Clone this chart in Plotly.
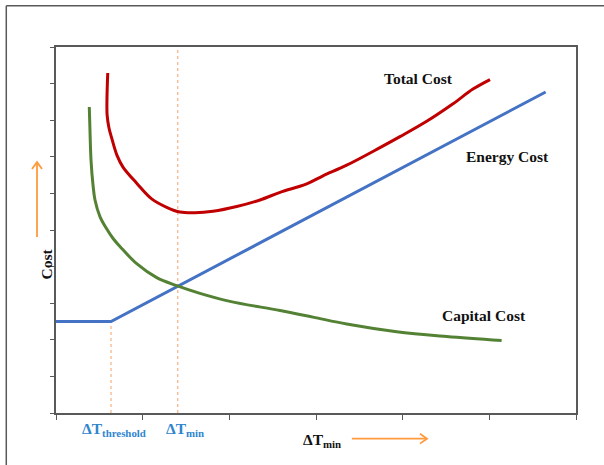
import plotly.graph_objects as go

# ---- data ----
total_x = [0.597, 0.588, 0.590, 0.612, 0.643, 0.704, 0.773, 0.931, 1.104, 1.277, 1.431, 1.604,
           1.811, 2.085, 2.354, 2.585, 2.893, 3.081, 3.354, 3.738, 3.969, 4.277, 4.581, 4.811, 5.008]
total_y = [9.29, 8.55, 8.14, 7.78, 7.51, 7.04, 6.72, 6.28, 5.85, 5.62, 5.49, 5.47,
           5.51, 5.64, 5.82, 6.03, 6.26, 6.48, 6.77, 7.25, 7.55, 7.97, 8.45, 8.85, 9.11]

capital_x = [0.384, 0.392, 0.404, 0.427, 0.450, 0.508, 0.577, 0.661, 0.738, 0.931, 1.162, 1.393,
             1.661, 2.008, 2.585, 2.965, 3.354, 3.931, 4.508, 5.142]
capital_y = [8.36, 7.73, 6.91, 6.23, 5.82, 5.36, 5.06, 4.76, 4.55, 4.08, 3.70, 3.48,
             3.27, 3.05, 2.80, 2.62, 2.43, 2.22, 2.09, 1.98]

energy_x = [0.0, 0.635, 5.65]
energy_y = [2.50, 2.50, 8.77]

threshold_x = 0.635
dtmin_x = 1.405

x_ticks = [0, 1, 2, 3, 4, 5, 6]
y_ticks = [0, 1, 2, 3, 4, 5, 6, 7, 8, 9, 10]

curve_labels = ["Total Cost", "Energy Cost", "Capital Cost"]
label_x = [4.18, 5.21, 4.94]
label_y = [9.14, 7.02, 2.66]

# ---- styles ----
RED = "#C00000"
GREEN = "#548235"
BLUE = "#4472C4"
LBLUE = "#2F86CF"
ORANGE = "#FF9A3C"
DASH = "#F4B183"
FRAME = "#595959"
FONT = "Liberation Serif"

fig = go.Figure()

# dashed guide lines
fig.add_trace(go.Scatter(x=[threshold_x, threshold_x], y=[0, energy_y[1]], mode="lines",
                         line=dict(color=DASH, width=1.2, dash="dot"), hoverinfo="skip"))
fig.add_trace(go.Scatter(x=[dtmin_x, dtmin_x], y=[0, 10], mode="lines",
                         line=dict(color=DASH, width=1.2, dash="dot"), hoverinfo="skip"))

fig.add_trace(go.Scatter(x=energy_x, y=energy_y, mode="lines",
                         line=dict(color=BLUE, width=3)))
fig.add_trace(go.Scatter(x=capital_x, y=capital_y, mode="lines",
                         line=dict(color=GREEN, width=3, shape="spline", smoothing=1.0)))
fig.add_trace(go.Scatter(x=total_x, y=total_y, mode="lines",
                         line=dict(color=RED, width=3, shape="spline", smoothing=1.0)))

annotations = []
for t, lx, ly in zip(curve_labels, label_x, label_y):
    annotations.append(dict(x=lx, y=ly, xref="x", yref="y", text=f"<b>{t}</b>", showarrow=False,
                            font=dict(family=FONT, size=15.5, color="#111111")))

annotations.append(dict(x=threshold_x + 0.03, y=0, xref="x", yref="paper", yanchor="top", yshift=-5,
                        text="<b>ΔT<sub>threshold</sub></b>", showarrow=False,
                        font=dict(family=FONT, size=15.5, color=LBLUE)))
annotations.append(dict(x=dtmin_x + 0.08, y=0, xref="x", yref="paper", yanchor="top", yshift=-5,
                        text="<b>ΔT<sub>min</sub></b>", showarrow=False,
                        font=dict(family=FONT, size=15.5, color=LBLUE)))
annotations.append(dict(x=0.511, y=0, xref="paper", yref="paper", yanchor="top", yshift=-16,
                        text="<b>ΔT<sub>min</sub></b>", showarrow=False,
                        font=dict(family=FONT, size=15.5, color="#111111")))
annotations.append(dict(x=-0.038, y=0.408, xref="paper", yref="paper", textangle=-90,
                        text="<b>Cost</b>", showarrow=False,
                        font=dict(family=FONT, size=15.5, color="#111111")))

shapes = [
    # outer frame (top and left)
    dict(type="line", xref="paper", yref="paper", x0=-0.0956, y0=1.113, x1=1.2, y1=1.113,
         line=dict(color=FRAME, width=1.5)),
    dict(type="line", xref="paper", yref="paper", x0=-0.0956, y0=1.113, x1=-0.0956, y1=-0.2,
         line=dict(color=FRAME, width=1.5)),
    # horizontal orange arrow
    dict(type="line", xref="paper", yref="paper", x0=0.569, y0=-0.0701, x1=0.7135, y1=-0.0701,
         line=dict(color=ORANGE, width=1.8)),
    dict(type="path", xref="paper", yref="paper",
         path="M 0.700 -0.0565 L 0.7135 -0.0701 L 0.700 -0.0837",
         line=dict(color=ORANGE, width=1.8)),
    # vertical orange arrow
    dict(type="line", xref="paper", yref="paper", x0=-0.0365, y0=0.481, x1=-0.0365, y1=0.6855,
         line=dict(color=ORANGE, width=1.8)),
    dict(type="path", xref="paper", yref="paper",
         path="M -0.0462 0.6667 L -0.0365 0.6855 L -0.0269 0.6667",
         line=dict(color=ORANGE, width=1.8)),
]

fig.update_layout(
    width=604, height=465,
    margin=dict(l=56, r=28, t=47, b=52),
    paper_bgcolor="white", plot_bgcolor="white",
    showlegend=False,
    annotations=annotations,
    shapes=shapes,
    xaxis=dict(range=[0, 6], tickvals=x_ticks, showticklabels=False, ticks="outside",
               ticklen=5, tickcolor=FRAME, tickwidth=1, showgrid=False, zeroline=False,
               showline=True, linecolor=FRAME, linewidth=2, mirror=True, fixedrange=True),
    yaxis=dict(range=[0, 10], tickvals=y_ticks, showticklabels=False, ticks="outside",
               ticklen=4, tickcolor=FRAME, tickwidth=1, showgrid=False, zeroline=False,
               showline=True, linecolor=FRAME, linewidth=2, mirror=True, fixedrange=True),
)

fig.write_html("out.html", config={"displayModeBar": False},
               post_script="document.body.style.margin='0';document.body.style.overflow='hidden';")
